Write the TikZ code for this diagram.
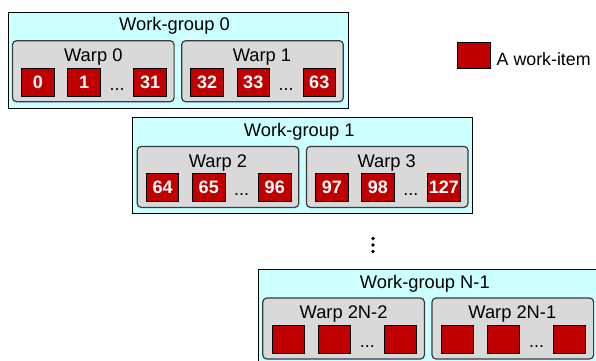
\documentclass[tikz,border=0pt]{standalone}
\usepackage{fontspec}
\setmainfont{Liberation Sans}
\definecolor{grpfill}{HTML}{CCFFFF}
\definecolor{warpfill}{HTML}{D9D9D9}
\definecolor{itemred}{HTML}{C00000}
\definecolor{warpline}{HTML}{3A3A3A}
\tikzset{
  grp/.style={draw=black, line width=1pt, fill=grpfill, anchor=north west,
    minimum width=340pt, minimum height=96pt, inner sep=0pt, outer sep=0pt},
  warpbox/.style={draw=warpline, line width=1.2pt, fill=warpfill, rounded corners=4pt,
    anchor=north west, minimum width=161.6pt, minimum height=61pt, inner sep=0pt, outer sep=0pt},
  itembox/.style={draw=black, line width=1pt, fill=itemred, anchor=north west,
    minimum width=32.5pt, minimum height=28pt, inner sep=0pt, outer sep=0pt,
    text=white, font=\fontsize{18}{18}\selectfont\bfseries},
  gtitle/.style={inner sep=0pt, anchor=base, font=\fontsize{18.3}{20}\selectfont},
  wtitle/.style={inner sep=0pt, anchor=base, font=\fontsize{18.3}{20}\selectfont},
  dotstxt/.style={inner sep=0pt, anchor=base, font=\fontsize{18}{20}\selectfont},
  vdot/.style={circle, fill=black, inner sep=0pt, minimum size=3.6pt}
}
\newcommand\mkgroup[4]{%
  \node[grp] (#1) at (0,0) {};
  \node[gtitle] (#1t) at (166.5,18.8) {#2};
  \node[warpbox] (#1a) at (4.5,28.7) {};
  \node[warpbox] (#1b) at (173.7,28.7) {};
  \node[wtitle] (#1at) at (85.3,49.5) {#3};
  \node[wtitle] (#1bt) at (254,49.5) {#4};
  \node[dotstxt] (#1ad) at (109,78.2) {...};
  \node[dotstxt] (#1bd) at (278.2,78.2) {...};
}
\newcommand\mkitems[7]{%
  \node[itembox] (#1a1) at (13.7,56) {#2};
  \node[itembox] (#1a2) at (59.8,56) {#3};
  \node[itembox] (#1a3) at (125.8,56) {#4};
  \node[itembox] (#1b1) at (182.9,56) {#5};
  \node[itembox] (#1b2) at (229,56) {#6};
  \node[itembox] (#1b3) at (295,56) {#7};
}
\begin{document}
\begin{tikzpicture}[x=1pt,y=-1pt]
\useasboundingbox (0,0) rectangle (596,360);
\clip (0,0) rectangle (596,360);
\begin{scope}[shift={(8,12)}]
  \mkgroup{ga}{Work-group 0}{Warp 0}{Warp 1}
  \mkitems{ga}{0}{1}{31}{32}{33}{63}
\end{scope}
\begin{scope}[shift={(132.7,117.7)}]
  \mkgroup{gb}{Work-group 1}{Warp 2}{Warp 3}
  \mkitems{gb}{64}{65}{96}{97}{98}{127}
\end{scope}
\begin{scope}[shift={(258.3,269.3)}]
  \mkgroup{gn}{Work-group N-1}{Warp 2N-2}{Warp 2N-1}
  \mkitems{gn}{}{}{}{}{}{}
\end{scope}
\node[vdot] (v1) at (373,238.5) {};
\node[vdot] (v2) at (373,245) {};
\node[vdot] (v3) at (373,251.5) {};
\node[itembox, minimum width=33pt, minimum height=26pt] (leg) at (457.7,42) {};
\node[inner sep=0pt, anchor=base west, font=\fontsize{17.8}{20}\selectfont] (legt) at (496.5,65.5) {A work-item};
\end{tikzpicture}
\end{document}
